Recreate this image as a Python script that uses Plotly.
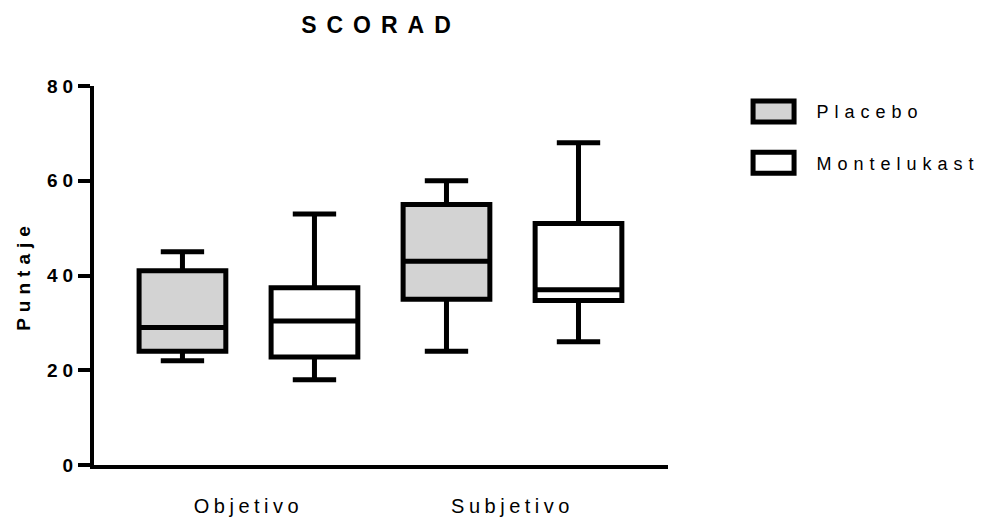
import plotly.graph_objects as go

# ---- data ----
categories = ["Objetivo", "Subjetivo"]
series_names = ["Placebo", "Montelukast"]

placebo_lower = [22, 24]
placebo_q1 = [24, 35]
placebo_median = [29, 43]
placebo_q3 = [41, 55]
placebo_upper = [45, 60]

montelukast_lower = [18, 26]
montelukast_q1 = [22.8, 34.7]
montelukast_median = [30.4, 37]
montelukast_q3 = [37.4, 51]
montelukast_upper = [53, 68]

y_ticks = [0, 20, 40, 60, 80]

# ---- style ----
FONT = "Liberation Sans, Arial, sans-serif"
LW = 5
BOXGAP = 0.0
GROUPGAP = 0.343
XRANGE = [-0.585, 1.589]

fig = go.Figure()
fig.add_trace(go.Box(
    name=series_names[0], x=categories, legendgroup="g0",
    q1=placebo_q1, median=placebo_median, q3=placebo_q3,
    lowerfence=placebo_lower, upperfence=placebo_upper,
    fillcolor="#D3D3D3", line=dict(color="black", width=LW),
    whiskerwidth=0.5, boxpoints=False,
))
fig.add_trace(go.Box(
    name=series_names[1], x=categories, legendgroup="g1",
    q1=montelukast_q1, median=montelukast_median, q3=montelukast_q3,
    lowerfence=montelukast_lower, upperfence=montelukast_upper,
    fillcolor="white", line=dict(color="black", width=LW),
    whiskerwidth=0.5, boxpoints=False,
))

# tick marks at each box position (group offsets)
n_series = len(series_names)
slot = (1 - BOXGAP) / n_series
box_tickvals = []
for i in range(len(categories)):
    for k in range(n_series):
        box_tickvals.append(i - (1 - BOXGAP) / 2 + slot * (k + 0.5))

fig.update_layout(
    width=982, height=522,
    paper_bgcolor="white", plot_bgcolor="white",
    margin=dict(l=94, r=314, t=86, b=57, autoexpand=False),
    boxmode="group", boxgap=BOXGAP, boxgroupgap=GROUPGAP,
    title=dict(text="<b>SCORAD</b>", x=0.5, xref="paper", xanchor="center",
               y=1 - 25 / 522, yref="container", yanchor="middle",
               font=dict(family=FONT, size=23, color="black")),
    font=dict(family=FONT, color="black"),
    xaxis=dict(
        type="category", range=XRANGE, showline=True, linecolor="black", linewidth=4,
        ticks="", showgrid=False, zeroline=False, automargin=False,
        tickfont=dict(family=FONT, size=20, color="black"),
        ticklabelstandoff=20,
    ),
    xaxis2=dict(
        overlaying="x", anchor="y", side="bottom", range=XRANGE, automargin=False,
        tickvals=box_tickvals, ticks="outside", ticklen=11, tickwidth=4, tickcolor="black",
        showticklabels=False, showline=False, showgrid=False, zeroline=False,
    ),
    yaxis=dict(
        range=[0, 80], tickvals=y_ticks, ticks="outside", ticklen=12, tickwidth=4,
        tickcolor="black", showline=True, linecolor="black", linewidth=4,
        showgrid=False, zeroline=False, automargin=False,
        tickfont=dict(family=FONT, size=19, color="black", weight="bold"),
        ticklabelstandoff=-4,
        title=dict(text="<b>Puntaje</b>", font=dict(family=FONT, size=19, color="black"),
                   standoff=22),
    ),
    legend=dict(
        x=1.109, xanchor="left", y=0.981, yanchor="top",
        font=dict(family=FONT, size=18, color="black"),
        itemwidth=76, tracegroupgap=25, traceorder="grouped",
        bgcolor="rgba(0,0,0,0)",
    ),
)

post = """
var s=document.createElement('style');
s.textContent='html,body{margin:0;padding:0}'
 + '.main-svg text{letter-spacing:5px}'
 + '.main-svg .gtitle{letter-spacing:10px}'
 + '.main-svg .legendtext{letter-spacing:6px}'
 + '.main-svg .xtick text{letter-spacing:4.5px}'
 + '.main-svg .ytitle{letter-spacing:6px}';
document.head.appendChild(s);
document.querySelectorAll('.legendbox').forEach(function(p){p.setAttribute('d','M20.5,10.5H-20.5V-10.5H20.5Z');});
document.querySelectorAll('.legend, .legend *').forEach(function(g){g.removeAttribute('clip-path'); g.style.clipPath='none';});
"""
fig.write_html("out.html", post_script=post, config={"displayModeBar": False})
